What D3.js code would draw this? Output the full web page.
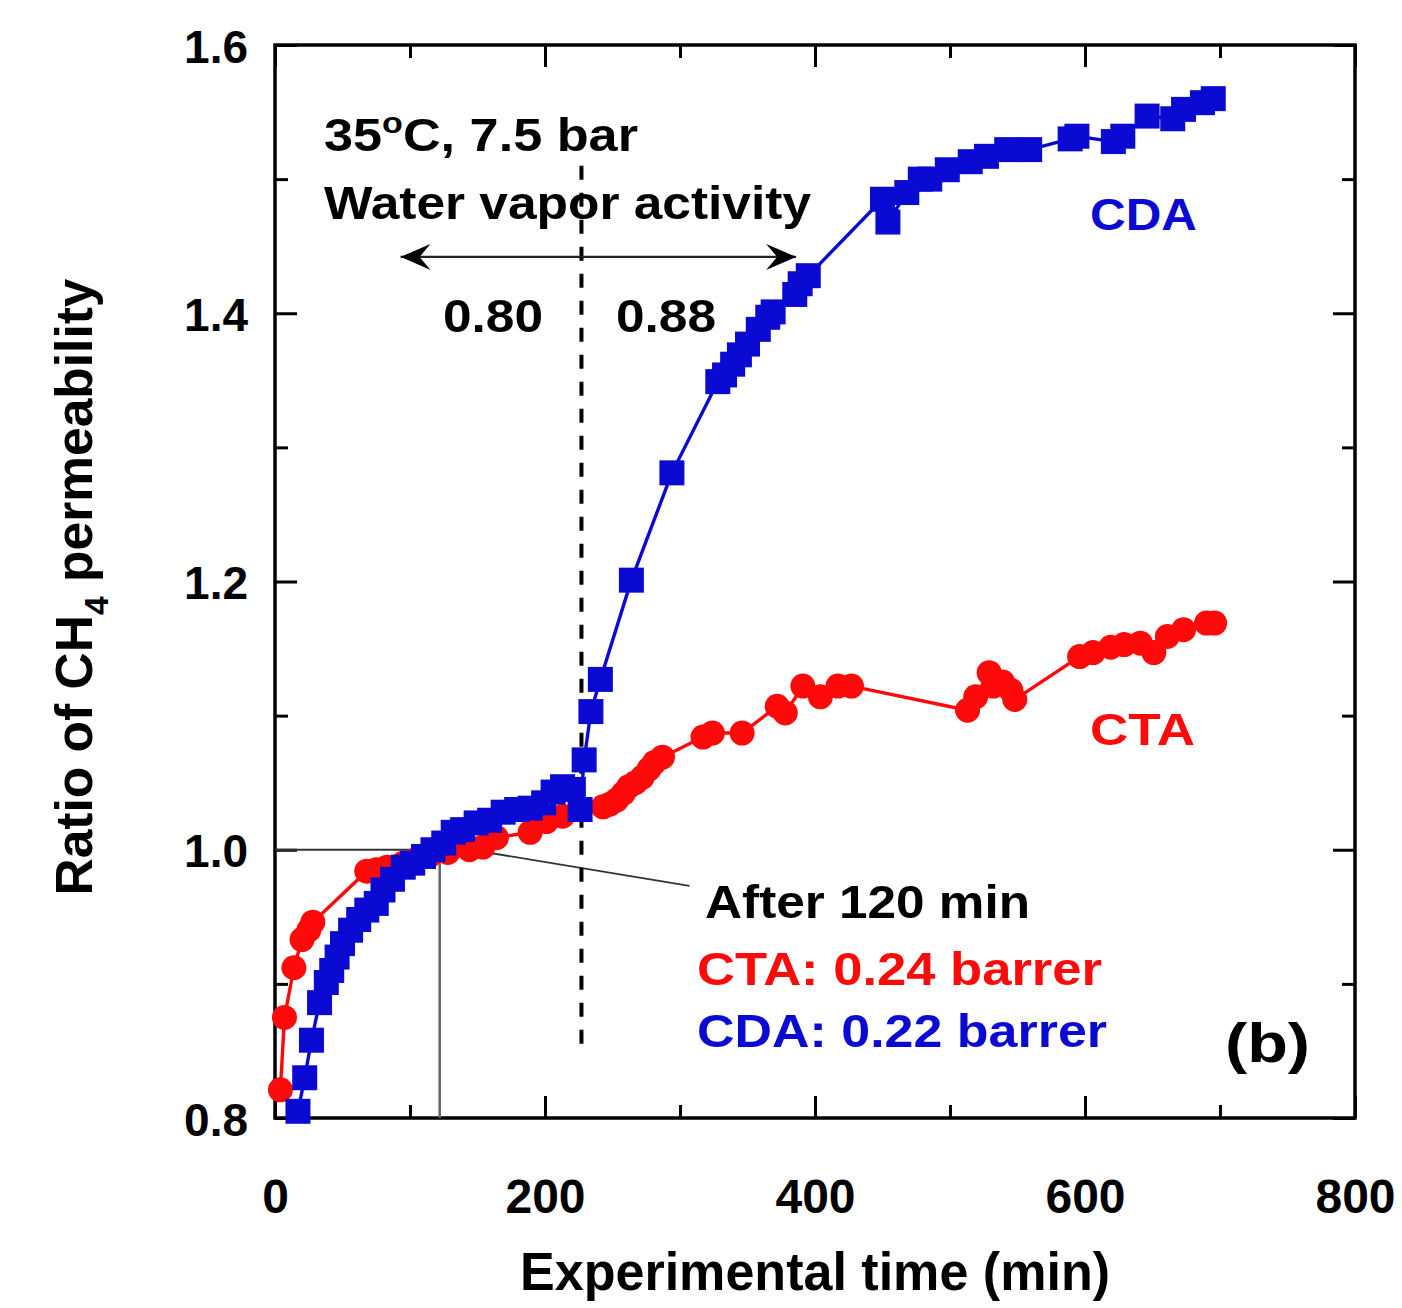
<!DOCTYPE html>
<html>
<head>
<meta charset="utf-8">
<script src="https://cdn.jsdelivr.net/npm/d3@7"></script>
<style>
	body { margin: 0; background: #fff; }
	text { font-family: "Liberation Sans", Arial, sans-serif; font-weight: bold; }
</style>
</head>
<body>
<div id="root"></div>
<script>
// --- data ---
const ctaTime = [4, 7, 14, 20, 25, 28, 68, 75, 83, 95, 105, 115, 128, 144, 154, 164, 189, 201, 213, 243, 248, 253, 258, 262, 267, 272, 277, 281, 287, 317, 324, 346, 372, 378, 391, 404, 417, 427, 513, 519, 529, 532, 539, 545, 548, 596, 606, 619, 629, 641, 651, 661, 673, 690, 696]
const ctaRatio = [0.821, 0.875, 0.912, 0.933, 0.940, 0.946, 0.984, 0.985, 0.987, 0.990, 0.993, 0.996, 0.998, 1.000, 1.002, 1.009, 1.013, 1.021, 1.025, 1.032, 1.034, 1.037, 1.042, 1.047, 1.050, 1.054, 1.060, 1.065, 1.069, 1.084, 1.087, 1.087, 1.107, 1.102, 1.122, 1.114, 1.122, 1.122, 1.104, 1.114, 1.132, 1.122, 1.125, 1.119, 1.112, 1.144, 1.147, 1.151, 1.153, 1.154, 1.147, 1.159, 1.164, 1.169, 1.169]

const cdaTime = [17, 22, 27, 33, 38, 42, 46, 50, 56, 62, 68, 75, 80, 87, 95, 102, 110, 117, 125, 132, 139, 149, 159, 169, 179, 189, 199, 206, 213, 221, 226, 229, 234, 241, 264, 294, 328, 333, 339, 344, 350, 358, 365, 369, 385, 389, 395, 450, 454, 468, 478, 485, 498, 515, 527, 542, 559, 589, 594, 621, 628, 646, 665, 673, 687, 695]
const cdaRatio = [0.805, 0.830, 0.858, 0.886, 0.901, 0.910, 0.920, 0.930, 0.940, 0.948, 0.955, 0.960, 0.970, 0.978, 0.987, 0.990, 0.995, 1.000, 1.005, 1.013, 1.015, 1.020, 1.022, 1.028, 1.030, 1.031, 1.035, 1.043, 1.047, 1.045, 1.030, 1.067, 1.103, 1.127, 1.201, 1.281, 1.349, 1.354, 1.362, 1.369, 1.377, 1.388, 1.397, 1.401, 1.414, 1.422, 1.428, 1.485, 1.468, 1.490, 1.500, 1.500, 1.507, 1.513, 1.517, 1.522, 1.522, 1.530, 1.532, 1.528, 1.532, 1.547, 1.545, 1.552, 1.557, 1.560]

const xTicks = [0, 200, 400, 600, 800]
const xMinorTicks = [100, 300, 500, 700]
const yTicks = [0.8, 1.0, 1.2, 1.4, 1.6]
const yMinorTicks = [0.9, 1.1, 1.3, 1.5]

// activity switch (dashed line), arrow span, 120 min guide
const switchTime = 227
const switchRange = [0.847, 1.51]
const arrowSpan = [93, 386]
const arrowLevel = 1.442
const refTime = 122
const pointerFrom = [145, 1.0]
const pointerTo = [307, 0.973]

const C = {
	width: 1402,
	height: 1308,
	left: 275,
	right: 1355,
	top: 45,
	bottom: 1118,
	major: 22,
	minor: 13,
	blue: '#0a0ad2',
	red: '#ff0a0a',
}

const svg = d3.select('#root').append('svg')
	.attr('width', C.width)
	.attr('height', C.height)

const x = d3.scaleLinear().domain([0, 800]).range([C.left, C.right])
const y = d3.scaleLinear().domain([0.8, 1.6]).range([C.bottom, C.top])

drawAxes()
drawGuides()
drawSeries(ctaTime, ctaRatio, C.red, 'circle')
drawSeries(cdaTime, cdaRatio, C.blue, 'square')
drawLabels()

function drawAxes() {
	const g = svg.append('g')

	const sides = [
		{ make: d3.axisBottom, scale: x, at: `translate(0,${C.bottom})`, major: xTicks, minor: xMinorTicks },
		{ make: d3.axisTop, scale: x, at: `translate(0,${C.top})`, major: xTicks, minor: xMinorTicks },
		{ make: d3.axisLeft, scale: y, at: `translate(${C.left},0)`, major: yTicks, minor: yMinorTicks },
		{ make: d3.axisRight, scale: y, at: `translate(${C.right},0)`, major: yTicks, minor: yMinorTicks },
	]
	sides.forEach(s => {
		[[s.major, C.major], [s.minor, C.minor]].forEach(([vals, len]) => {
			g.append('g')
				.attr('transform', s.at)
				.call(s.make(s.scale).tickValues(vals).tickSize(-len).tickFormat(''))
				.call(a => a.select('.domain').remove())
				.call(a => a.selectAll('line').attr('stroke', '#000').attr('stroke-width', 3))
		})
	})

	// tick labels
	g.append('g')
		.attr('transform', `translate(0,${C.bottom})`)
		.call(d3.axisBottom(x).tickValues(xTicks).tickSize(0).tickPadding(0).tickFormat(d3.format('d')))
		.call(a => a.select('.domain').remove())
		.call(a => a.selectAll('text')
			.attr('y', 95)
			.attr('dy', 0)
			.attr('fill', '#000')
			.attr('font-size', 48)
			.attr('font-family', '"Liberation Sans", Arial, sans-serif'))

	g.append('g')
		.attr('transform', `translate(${C.left},0)`)
		.call(d3.axisLeft(y).tickValues(yTicks).tickSize(0).tickFormat(d3.format('.1f')))
		.call(a => a.select('.domain').remove())
		.call(a => a.selectAll('text')
			.attr('x', -27)
			.attr('dy', '0.37em')
			.attr('fill', '#000')
			.attr('font-size', 46)
			.attr('font-family', '"DejaVu Sans", sans-serif'))

	g.append('rect')
		.attr('x', C.left)
		.attr('y', C.top)
		.attr('width', C.right - C.left)
		.attr('height', C.bottom - C.top)
		.attr('fill', 'none')
		.attr('stroke', '#000')
		.attr('stroke-width', 3.5)

	// axis titles
	svg.append('text')
		.attr('x', 815)
		.attr('y', 1290)
		.attr('text-anchor', 'middle')
		.attr('font-size', 54)
		.attr('textLength', 590)
		.attr('lengthAdjust', 'spacingAndGlyphs')
		.text('Experimental time (min)')

	const yt = svg.append('text')
		.attr('transform', 'translate(92,587) rotate(-90)')
		.attr('text-anchor', 'middle')
		.attr('font-size', 52)
		.attr('textLength', 617)
		.attr('lengthAdjust', 'spacingAndGlyphs')
	yt.append('tspan').text('Ratio of CH')
	yt.append('tspan').attr('font-size', 34).attr('dy', 16).text('4')
	yt.append('tspan').attr('dy', -16).text(' permeability')
}

function drawGuides() {
	const g = svg.append('g')

	// thin guides at 120 min
	g.append('line')
		.attr('x1', x(0)).attr('x2', x(refTime))
		.attr('y1', y(1.0)).attr('y2', y(1.0))
		.attr('stroke', '#333').attr('stroke-width', 2)
	g.append('line')
		.attr('x1', x(refTime)).attr('x2', x(refTime))
		.attr('y1', y(1.0)).attr('y2', y(0.8))
		.attr('stroke', '#666').attr('stroke-width', 2.5)
	g.append('line')
		.attr('x1', x(pointerFrom[0])).attr('y1', y(pointerFrom[1]))
		.attr('x2', x(pointerTo[0])).attr('y2', y(pointerTo[1]))
		.attr('stroke', '#333').attr('stroke-width', 1.8)

	// activity switch
	g.append('line')
		.attr('x1', x(switchTime)).attr('x2', x(switchTime))
		.attr('y1', y(switchRange[1])).attr('y2', y(switchRange[0]))
		.attr('stroke', '#000').attr('stroke-width', 4)
		.attr('stroke-dasharray', '14,13')

	const defs = svg.append('defs')
	defs.append('marker')
		.attr('id', 'head')
		.attr('viewBox', '0 0 30 26')
		.attr('refX', 30).attr('refY', 13)
		.attr('markerWidth', 30).attr('markerHeight', 26)
		.attr('markerUnits', 'userSpaceOnUse')
		.attr('orient', 'auto-start-reverse')
		.append('path')
		.attr('d', 'M0,0 L30,13 L0,26 L11,13 Z')
		.attr('fill', '#000')

	g.append('line')
		.attr('x1', x(arrowSpan[0])).attr('x2', x(arrowSpan[1]))
		.attr('y1', y(arrowLevel)).attr('y2', y(arrowLevel))
		.attr('stroke', '#222').attr('stroke-width', 2.2)
		.attr('marker-start', 'url(#head)')
		.attr('marker-end', 'url(#head)')
}

function drawSeries(times, ratios, color, shape) {
	const pts = times.map((t, i) => ({ t: t, v: ratios[i] }))
	const g = svg.append('g')

	const line = d3.line().x(d => x(d.t)).y(d => y(d.v))
	g.append('path')
		.datum(pts)
		.attr('d', line)
		.attr('fill', 'none')
		.attr('stroke', color)
		.attr('stroke-width', 3.4)

	const sym = shape === 'square' ? d3.symbolSquare : d3.symbolCircle
	const size = shape === 'square' ? 25 * 25 : Math.PI * 12.5 * 12.5
	g.selectAll('path.mark')
		.data(pts)
		.enter()
		.append('path')
		.attr('class', 'mark')
		.attr('transform', d => `translate(${x(d.t)},${y(d.v)})`)
		.attr('d', d3.symbol().type(sym).size(size))
		.attr('fill', color)
}

function drawLabels() {
	const labels = [
		{ x: 324, y: 151, size: 46, len: 314, color: '#000', parts: [['35'], ['o', 30, -18], ['C, 7.5 bar', null, 18]] },
		{ x: 324, y: 219, size: 46, len: 487, color: '#000', parts: [['Water vapor activity']] },
		{ x: 443, y: 332, size: 46, len: 100, color: '#000', parts: [['0.80']] },
		{ x: 616, y: 332, size: 46, len: 100, color: '#000', parts: [['0.88']] },
		{ x: 1090, y: 230, size: 44, len: 107, color: C.blue, parts: [['CDA']] },
		{ x: 1090, y: 745, size: 44, len: 105, color: C.red, parts: [['CTA']] },
		{ x: 705, y: 918, size: 46, len: 325, color: '#000', parts: [['After 120 min']] },
		{ x: 697, y: 985, size: 46, len: 405, color: C.red, parts: [['CTA: 0.24 barrer']] },
		{ x: 697, y: 1047, size: 46, len: 410, color: C.blue, parts: [['CDA: 0.22 barrer']] },
		{ x: 1225, y: 1062, size: 56, len: 85, color: '#000', parts: [['(b)']] },
	]
	labels.forEach(l => {
		const t = svg.append('text')
			.attr('x', l.x)
			.attr('y', l.y)
			.attr('font-size', l.size)
			.attr('fill', l.color)
			.attr('textLength', l.len)
			.attr('lengthAdjust', 'spacingAndGlyphs')
		l.parts.forEach(([s, fs, dy]) => {
			const ts = t.append('tspan').text(s)
			if (fs) ts.attr('font-size', fs)
			if (dy) ts.attr('dy', dy)
		})
	})
}
</script>
</body>
</html>
